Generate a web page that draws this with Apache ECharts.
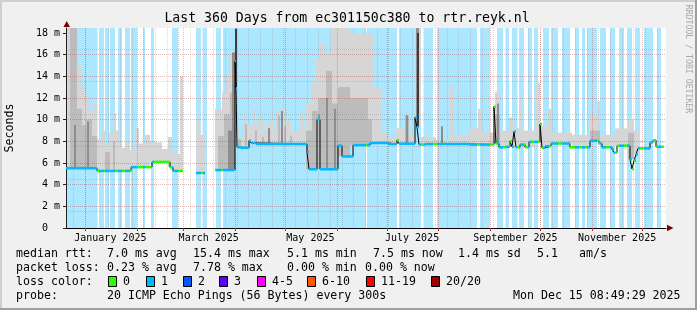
<!DOCTYPE html>
<html><head><meta charset="utf-8">
<script src="https://cdn.jsdelivr.net/npm/echarts@6/dist/echarts.min.js"></script>
<style>html,body{margin:0;padding:0;background:#f0f0f0}#c{width:697px;height:310px}</style>
</head><body><div id="c"></div>
<script>
// ---------- DATA ----------
const titleText = 'Last 360 Days from ec301150c380 to rtr.reyk.nl';
const yAxisName = 'Seconds';
const watermark = 'RRDTOOL / TOBI OETIKER';
const startTime = '2024-12-20T08:49:29Z';   // day 0 of the x axis
const totalDays = 360;
const yMax = 18.46;                           // ms
const yTicks = [0, 2, 4, 6, 8, 10, 12, 14, 16, 18];
const monthStartDates = ['2025-01-01','2025-02-01','2025-03-01','2025-04-01','2025-05-01','2025-06-01','2025-07-01','2025-08-01','2025-09-01','2025-10-01','2025-11-01','2025-12-01'];
const monthLabelDates = ['2025-01-16','2025-03-16','2025-05-16','2025-07-16','2025-09-16','2025-11-16'];
const monthLabelText = ['January 2025','March 2025','May 2025','July 2025','September 2025','November 2025'];
const weekAnchorDate = '2024-12-25';

// median rtt, step segments [fromDay, toDay, ms]
const medianSteps = [
 [0,18.6,5.52],[18.6,39,5.27],[39,51.6,5.62],[51.6,62.4,6.1],[62.4,64.2,5.6],[64.2,70.2,5.27],
 [78,83.4,5.08],
 [89.4,101.4,5.35],[101.4,102.0,15.4],[102.0,102.6,12.9],[102.6,105,7.45],[105,109.8,7.4],[109.8,111,8.05],[111,114,7.85],[114,144.6,7.75],
 [144.6,145.8,7.0],[145.8,150.6,5.42],[150.6,152.4,10.0],[152.4,163.2,5.42],[163.2,165.6,7.6],[165.6,172.2,6.6],
 [172.2,182.4,7.65],[182.4,193.2,7.85],[193.2,198.6,7.75],[198.6,199.8,8.1],[199.8,209.4,7.78],[209.4,210.6,10.2],[210.6,211.8,9.3],
 [211.8,215.4,7.7],[215.4,242.4,7.75],[242.4,256.8,7.7],[256.8,258,11.2],[258,259.8,7.8],[259.8,263.4,7.45],[263.4,266.4,7.5],
 [266.4,267.6,8.0],[267.6,268.8,7.5],[268.8,270,8.9],[270,272.4,7.45],[272.4,275.4,7.7],[275.4,277.8,7.45],[277.8,284.4,7.95],
 [284.4,285.6,9.6],[285.6,287.4,7.4],[287.4,291,7.55],[291,302.4,7.8],[302.4,314.4,7.45],[314.4,319.8,8.05],[319.8,321.6,7.8],
 [321.6,327.6,7.45],[327.6,328.8,7.25],[328.8,330.6,6.95],[330.6,338.4,7.6],[338.4,339.6,6.35],[339.6,340.8,5.45],[340.8,342,6.2],
 [342,343.2,6.8],[343.2,350.4,7.35],[350.4,352.2,7.9],[352.2,354,8.1],[354,358.8,7.5]
];

// periods with packet loss (1 of 20) [fromDay, toDay]
const lossRuns = [
 [0,18.6],[19.8,22.8],[23.4,25.8],[26.4,29.4],[31.2,33.6],[35.4,38.4],[39,42.6],[46.2,47.4],[51,52.8],[63.6,67.2],
 [78,81],[82.2,84.6],[90,93],[94.2,180],[180.6,198.6],[199.8,213],[214.8,220.2],[222.6,246.6],[248.4,254.4],
 [258.6,262.2],[264,265.8],[267.6,270.6],[271.8,274.8],[277.2,279.6],[280.8,283.2],[286.2,289.8],[291,295.2],
 [297.6,302.4],[305.4,307.8],[309.6,311.4],[312.6,318.6],[320.4,324],[326.4,329.4],[331.8,334.8],[336.6,339.6],
 [341.4,344.4],[346.8,352.2],[354.6,357]
];

// smoke (ping spread) tops [fromDay, toDay, ms]
const smokeLight = [
 [0,2.4,18.5],[2.4,6.6,18.5],[6.6,9,15.0],[9,11.4,13.0],[11.4,13.8,12.0],[13.8,16.2,10.8],[16.2,18.6,11.5],
 [18.6,21,8.2],[21,23.4,9.0],[23.4,25.8,7.6],[25.8,28.2,8.8],[28.2,30,10.6],[30,32.4,9.0],[32.4,35.4,7.4],[35.4,38.4,8.0],
 [38.4,41.4,7.2],[41.4,43.8,9.2],[43.8,47.4,7.8],[47.4,50.4,8.6],[50.4,54,8.0],[54,57.6,7.9],[57.6,61.2,7.3],[61.2,63.6,8.4],
 [63.6,66,7.0],[66,68.4,6.8],[68.4,70.2,14.0],
 [78,80.4,10.2],[80.4,83.4,8.6],
 [89.4,93.6,11.0],[93.6,96,12.5],[96,98.4,14.0],[98.4,101.4,16.0],[101.4,102.6,18.5],
 [102.6,104.4,9.0],[104.4,106.2,8.4],[106.2,107.4,10.5],[107.4,109.2,9.2],[109.2,112.2,9.5],[112.2,113.4,11.0],[113.4,115.2,9.4],
 [115.2,118.2,10.2],[118.2,120,8.8],[120,122.4,9.6],[122.4,124.2,10.0],[124.2,126,8.9],[126,127.8,10.8],[127.8,129.6,9.3],
 [129.6,131.4,11.2],[131.4,133.2,9.8],[133.2,135,10.0],[135,136.8,8.8],[136.8,140.4,9.0],[140.4,142.2,10.5],[142.2,144,9.2],
 [144,147,11.5],[147,150,13.5],[150,152.4,15.5],[152.4,156,17.0],[156,159.6,16.0],[159.6,163.2,18.5],[163.2,170.4,18.5],
 [170.4,181.2,18.0],[181.2,184.8,18.0],[184.8,189,13.0],
 [189,193.2,8.8],[193.2,197.4,8.4],[197.4,203.4,9.2],[203.4,209.4,8.6],[209.4,213,18.5],[213,221.4,8.4],[221.4,230.4,8.2],
 [230.4,232.8,13.2],[232.8,242.4,8.6],
 [242.4,247.2,9.2],[247.2,249.6,11.0],[249.6,257.4,8.8],[257.4,260.4,12.6],[260.4,265.8,9.0],[265.8,268.2,10.2],[268.2,271.8,9.2],
 [271.8,273.6,11.8],[273.6,281.4,9.0],[281.4,284.4,13.4],[284.4,289.2,9.4],[289.2,291.6,11.0],[291.6,303.6,8.8],
 [303.6,314.4,8.6],[314.4,318.6,10.4],[318.6,320.4,11.7],[320.4,329.4,8.6],[329.4,337.2,9.2],[337.2,340.8,10.0],[340.8,344.4,9.0],[344.4,358.8,8.0]
];
const smokeMid = [
 [2.4,6.6,18.5],[6.6,9.6,11.0],[9.6,12,9.5],[12,15.6,10.0],[15.6,18.6,8.5],[23.4,26.4,7.0],[28.2,29.4,8.0],
 [91.2,94.8,8.5],[94.8,98.4,10.5],[98.4,101.4,12.5],[103.2,105,8.2],[107.4,108.6,9.6],[113.4,114.6,9.0],[117.6,118.8,8.4],
 [127.2,128.4,10.4],[130.8,132,9.4],[134.4,135.6,8.5],[144,147.6,9.0],[147.6,151.2,10.8],[151.2,156,12.0],[156,159.6,14.5],
 [159.6,163.2,11.5],[163.2,170.4,13.0],[170.4,181.2,12.0],[181.2,183.6,10.0],[203.4,205.8,10.4],[257.4,260.4,10.5],
 [314.4,320.4,9.0],[337.2,340.8,8.8]
];
const smokeDark = [
 [4.8,6,9.5],[12.6,13.8,9.8],[97.2,99.6,9.0],[99.6,101.4,16.2],[121.2,122.4,9.2],[129,130.2,10.8],[151.2,152.4,10.5],
 [156,157.2,12.0],[160.8,162,11.0],[204,205.2,10.4],[209.8,212,18.5],[225,226.2,9.4],[258.6,259.8,11.5]
];
const smokeCore = [[101.5,102.5,18.4],[210.3,211.6,18.0]];

// legend / statistics text
const statRows = [
 [['median rtt:',16],['7.0 ms avg',107],['15.4 ms max',193],['5.1 ms min',287],['7.5 ms now',373],['1.4 ms sd',458],['5.1',537],['am/s',579]],
 [['packet loss:',16],['0.23 % avg',107],['7.78 % max',193],['0.00 % min',287],['0.00 % now',365]],
 [['loss color:',16]],
 [['probe:',16],['20 ICMP Echo Pings (56 Bytes) every 300s',107],['Mon Dec 15 08:49:29 2025',513]]
];
const lossLegendLabels = ['0','1','2','3','4-5','6-10','11-19','20/20'];
const lossLegendColors = ['#26ff00','#00b8ff','#0059ff','#5e00ff','#ff00ff','#ff5500','#ff0000','#a10000'];
const lossLegendX = [108,146,183,219,257,307,366,431];

// ---------- BUILD ----------
const T0 = Date.parse(startTime);
const dayOf = s => (Date.parse(s + 'T00:00:00Z') - T0) / 864e5;
const monthStarts = monthStartDates.map(dayOf);
const labelDays = monthLabelDates.map(dayOf);
const weekDays = [];
for (let d = dayOf(weekAnchorDate); d < totalDays; d += 7) weekDays.push(d);

const FONT = '"DejaVu Sans Mono", monospace';
const colLoss0 = lossLegendColors[0], colLoss1 = lossLegendColors[1];
const bgLoss = 'rgba(0,184,255,0.33)';

function medianAt(d) {
  for (const s of medianSteps) if (d >= s[0] && d < s[1]) return s[2];
  return null;
}
function withBase(arr) {
  const out = [];
  arr.forEach(s => { const b = medianAt((s[0] + s[1]) / 2); if (b != null && s[2] > b) out.push([s[0], s[1], s[2], b]); });
  return out;
}
function rectSeries(data, color, z) {
  return {
    type: 'custom', z: z, silent: true, clip: true, data: data,
    encode: { x: [0, 1], y: [2, 3] },
    renderItem: function (params, api) {
      const a = api.coord([api.value(0), api.value(3)]);
      const b = api.coord([api.value(1), api.value(2)]);
      const x0 = Math.round(a[0]), x1 = Math.round(b[0]);
      return { type: 'rect', shape: { x: x0, y: b[1], width: Math.max(1, x1 - x0), height: a[1] - b[1] }, style: { fill: color } };
    }
  };
}

// black median step line
const medLine = [];
medianSteps.forEach((s, i) => {
  if (i > 0 && medianSteps[i - 1][1] !== s[0]) medLine.push([(medianSteps[i - 1][1] + s[0]) / 2, '-']);
  medLine.push([s[0], s[2]], [s[1], s[2]]);
});
// coloured median pieces split by loss
const medPieces = [];
medianSteps.forEach(s => {
  const cuts = [s[0], s[1]];
  lossRuns.forEach(r => { if (r[0] > s[0] && r[0] < s[1]) cuts.push(r[0]); if (r[1] > s[0] && r[1] < s[1]) cuts.push(r[1]); });
  cuts.sort((p, q) => p - q);
  for (let i = 0; i < cuts.length - 1; i++) {
    const m = (cuts[i] + cuts[i + 1]) / 2;
    const lost = lossRuns.some(r => m >= r[0] && m < r[1]);
    medPieces.push([cuts[i], cuts[i + 1], s[2], lost ? 1 : 0]);
  }
});

const gridMajor = 'rgba(170,40,40,0.33)';
const gridMinor = 'rgba(130,130,130,0.33)';

const graphics = [
  { type: 'rect', shape: { x: 0, y: 0, width: 697, height: 2 }, style: { fill: '#cfcfcf' }, silent: true },
  { type: 'rect', shape: { x: 0, y: 0, width: 2, height: 310 }, style: { fill: '#cfcfcf' }, silent: true },
  { type: 'rect', shape: { x: 0, y: 308, width: 697, height: 2 }, style: { fill: '#9e9e9e' }, silent: true },
  { type: 'rect', shape: { x: 695, y: 0, width: 2, height: 310 }, style: { fill: '#9e9e9e' }, silent: true },
  { type: 'text', x: 347, y: 19, style: { text: titleText, font: '13.2px ' + FONT, fill: '#000', align: 'center', verticalAlign: 'middle' } },
  { type: 'text', x: 10, y: 128, rotation: Math.PI / 2, style: { text: yAxisName, font: '11.6px ' + FONT, fill: '#000', align: 'center', verticalAlign: 'middle' } },
  { type: 'text', x: 688, y: 59, rotation: -Math.PI / 2, style: { text: watermark, font: '8.2px ' + FONT, fill: '#a8a8a8', align: 'center', verticalAlign: 'middle' } },
  { type: 'polygon', shape: { points: [[63.5, 27], [70, 27], [66.7, 21]] }, style: { fill: '#7f0000' }, silent: true },
  { type: 'polygon', shape: { points: [[667, 224.8], [667, 231.2], [673.5, 228]] }, style: { fill: '#7f0000' }, silent: true }
];
const rowY = [254.3, 268.3, 282.3, 296.2];
statRows.forEach((row, r) => row.forEach(t => graphics.push({ type: 'text', x: t[1], y: rowY[r], style: { text: t[0], font: '11.6px ' + FONT, fill: '#000', align: 'left', verticalAlign: 'middle' } })));
lossLegendLabels.forEach((lab, i) => {
  graphics.push({ type: 'rect', shape: { x: lossLegendX[i] + 0.5, y: 276.5, width: 8, height: 10 }, style: { fill: lossLegendColors[i], stroke: '#000', lineWidth: 1 } });
  graphics.push({ type: 'text', x: lossLegendX[i] + 15, y: rowY[2], style: { text: lab, font: '11.6px ' + FONT, fill: '#000', align: 'left', verticalAlign: 'middle' } });
});

const chart = echarts.init(document.getElementById('c'), null, { renderer: 'canvas' });
chart.setOption({
  animation: false,
  backgroundColor: '#f0f0f0',
  grid: { left: 66, right: 31, top: 28, height: 200, show: true, backgroundColor: '#ffffff', borderWidth: 0 },
  xAxis: [
    { type: 'value', min: 0, max: totalDays, position: 'bottom', z: 3,
      axisLine: { show: true, lineStyle: { color: '#000', width: 1 } },
      axisTick: { show: true, customValues: monthStarts, length: 3, lineStyle: { color: '#b03030' } },
      axisLabel: { customValues: labelDays, margin: 5, color: '#000', fontFamily: FONT, fontSize: 10,
        formatter: v => { let best = -1, bd = 1; labelDays.forEach((d, i) => { if (Math.abs(d - v) < bd) { bd = Math.abs(d - v); best = i; } }); return best >= 0 ? monthLabelText[best] : ''; } },
      splitLine: { show: true, lineStyle: { color: gridMajor, type: [1, 1], width: 1 } } },
    { type: 'value', min: 0, max: totalDays, position: 'bottom', z: 2,
      axisLine: { show: false }, axisLabel: { show: false },
      axisTick: { show: false, customValues: weekDays },
      splitLine: { show: true, lineStyle: { color: gridMinor, type: [1, 1], width: 1 } } }
  ],
  yAxis: {
    type: 'value', min: 0, max: yMax, z: 3,
    axisLine: { show: true, lineStyle: { color: '#222' } },
    axisTick: { show: true, customValues: yTicks, length: 3, lineStyle: { color: '#222' } },
    axisLabel: { customValues: yTicks, margin: 6, color: '#000', fontFamily: FONT, fontSize: 10,
      formatter: v => v === 0 ? '0  ' : Math.round(v) + ' m' },
    splitLine: { show: true, showMaxLine: false, showMinLine: false, lineStyle: { color: gridMajor, type: [1, 1] } },
    minorTick: { show: false, splitNumber: 2 },
    minorSplitLine: { show: true, lineStyle: { color: gridMinor, type: [1, 1] } }
  },
  series: [
    rectSeries(lossRuns.map(r => [r[0], r[1], yMax, 0]), bgLoss, 1),
    rectSeries(withBase(smokeLight), '#d6d6d6', 2),
    rectSeries(withBase(smokeMid), '#bcbcbc', 2),
    rectSeries(withBase(smokeDark), '#8e8e8e', 2),
    rectSeries(withBase(smokeCore), '#3c3c3c', 2),
    { type: 'line', data: medLine, showSymbol: false, silent: true, z: 4, connectNulls: false,
      lineStyle: { color: '#000', width: 1 } },
    { type: 'custom', z: 5, silent: true, clip: true, data: medPieces, encode: { x: [0, 1], y: 2 },
      renderItem: function (params, api) {
        const a = api.coord([api.value(0), api.value(2)]);
        const b = api.coord([api.value(1), api.value(2)]);
        return { type: 'line', shape: { x1: a[0], y1: a[1], x2: b[0], y2: b[1] },
          style: { stroke: api.value(3) === 1 ? colLoss1 : colLoss0, lineWidth: 2.5, lineCap: 'butt' } };
      } }
  ],
  graphic: graphics
});
</script></body></html>
